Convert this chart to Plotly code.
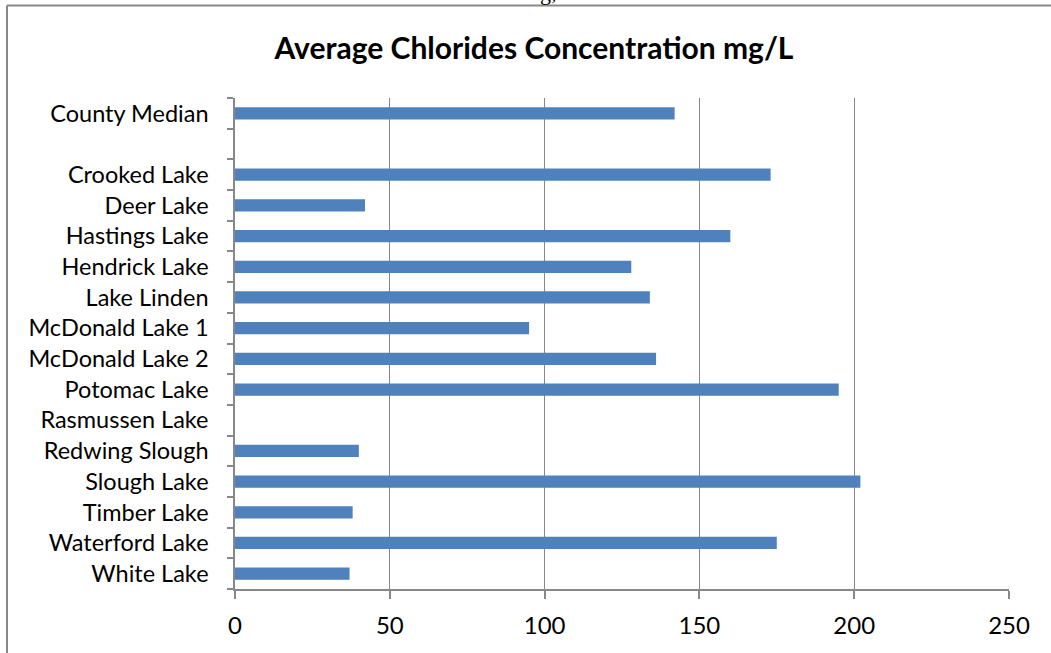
import plotly.graph_objects as go

categories = ["County Median", " ", "Crooked Lake", "Deer Lake", "Hastings Lake",
              "Hendrick Lake", "Lake Linden", "McDonald Lake 1", "McDonald Lake 2",
              "Potomac Lake", "Rasmussen Lake", "Redwing Slough", "Slough Lake",
              "Timber Lake", "Waterford Lake", "White Lake"]
values = [142, None, 173, 42, 160, 128, 134, 95, 136, 195, None, 40, 202, 38, 175, 37]
x_ticks = [0, 50, 100, 150, 200, 250]
title_text = "Average Chlorides Concentration mg/L"

W, H = 1051, 653
L, R, T, B = 235, 42, 98, 64
pw, ph = W - L - R, H - T - B

def px_to_paper_x(px):
    return (px - L) / pw

def px_to_paper_y(py):
    return (H - B - py) / ph

grey = "#888888"
font_fam = "Lato, 'Open Sans', sans-serif"

fig = go.Figure()
fig.add_trace(go.Bar(
    y=categories, x=values, orientation="h",
    marker=dict(color="#4F81BD", line=dict(width=0)),
    width=0.4,
))

fig.update_layout(
    width=W, height=H,
    margin=dict(l=L, r=R, t=T, b=B),
    paper_bgcolor="white", plot_bgcolor="white",
    showlegend=False,
    title=dict(text=f"<b>{title_text}</b>", x=534 / W, xanchor="center",
               y=1 - 48 / H, yanchor="middle",
               font=dict(family=font_fam, size=30, color="black")),
    xaxis=dict(range=[0, 250], tickvals=x_ticks, showgrid=True, gridcolor=grey, gridwidth=1,
               showline=True, linecolor=grey, linewidth=1.5, ticks="outside", ticklen=8,
               tickcolor=grey, tickwidth=1.5, zeroline=False,
               tickfont=dict(family=font_fam, size=24, color="black"), ticklabelstandoff=6),
    yaxis=dict(type="category", categoryorder="array", categoryarray=categories[::-1],
               tickson="boundaries", ticks="outside", ticklen=6, tickcolor=grey, tickwidth=1.5,
               showline=True, linecolor=grey, linewidth=1.5, showgrid=False,
               tickfont=dict(family=font_fam, size=23.5, color="black"), ticklabelstandoff=20),
)

# outer frame of the chart object (left and top edges visible)
fig.add_shape(type="line", xref="paper", yref="paper",
              x0=px_to_paper_x(7), x1=px_to_paper_x(7),
              y0=px_to_paper_y(700), y1=px_to_paper_y(5.5),
              line=dict(color=grey, width=2), layer="below")
fig.add_shape(type="line", xref="paper", yref="paper",
              x0=px_to_paper_x(7), x1=px_to_paper_x(1100),
              y0=px_to_paper_y(5.5), y1=px_to_paper_y(5.5),
              line=dict(color=grey, width=2), layer="below")

# clipped fragment of surrounding document text at top
fig.add_annotation(text="g,", xref="paper", yref="paper",
                   x=px_to_paper_x(548), y=px_to_paper_y(7), xanchor="center", yanchor="bottom",
                   showarrow=False, font=dict(family="Liberation Serif", size=22, color="black"))

fig.write_html("out.html", config={"displayModeBar": False},
               post_script="document.body.style.margin='0';document.body.style.overflow='hidden';")
